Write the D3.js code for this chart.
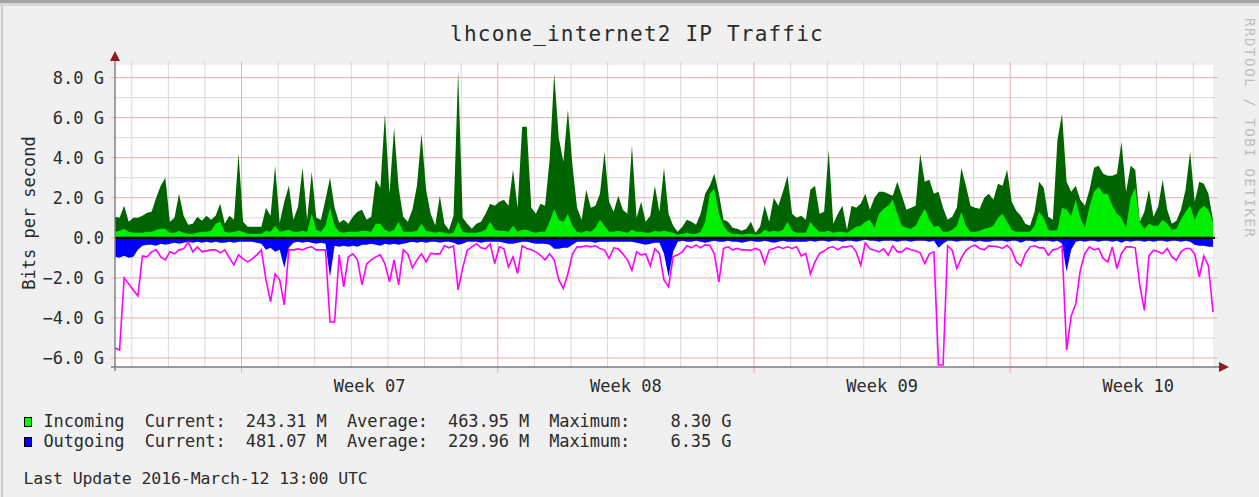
<!DOCTYPE html>
<html>
<head>
<meta charset="utf-8">
<script src="https://cdn.jsdelivr.net/npm/d3@7"></script>
<style>
  body { margin: 0; background: #f0f0f0; }
  svg { display: block; }
  text { font-family: "DejaVu Sans Mono", monospace; fill: #2b2b2b; }
</style>
</head>
<body>
<svg id="chart" width="1259" height="497"></svg>
<script>
// rrd samples, 3 hour steps starting at startTime (values in Gbit/s)
const startTime = Date.UTC(2016, 1, 11, 13);
const endTime = Date.UTC(2016, 2, 12, 13);
const stepHours = 3;

// incoming, max per step (dark green)
const inMax = [
  1.05, 1.0, 1.6, 0.8, 1.0, 1.0, 1.1, 1.25, 1.3, 2.0,
  2.6, 3.0, 0.8, 1.0, 2.2, 1.1, 0.65, 0.7, 1.05, 0.85,
  1.1, 0.9, 1.1, 1.7, 0.7, 1.1, 0.9, 4.2, 0.8, 0.55,
  0.55, 0.55, 0.55, 1.5, 1.1, 3.6, 0.75, 1.8, 2.6, 0.9,
  1.55, 3.5, 0.9, 3.3, 1.0, 0.9, 1.9, 3.0, 1.5, 0.75,
  0.9, 0.7, 1.05, 1.3, 1.4, 0.9, 1.05, 2.9, 2.5, 6.2,
  2.2, 5.5, 2.5, 1.05, 0.8, 1.4, 2.6, 5.2, 2.4, 1.2,
  0.63, 2.1, 0.7, 0.4, 1.1, 8.3, 1.0, 0.7, 0.45, 0.7,
  0.8, 1.2, 1.7, 1.6, 1.8, 1.9, 1.6, 3.4, 1.5, 5.55,
  5.55, 1.5, 1.2, 1.7, 1.6, 3.9, 8.2, 5.0, 3.8, 6.4,
  3.6, 1.5, 0.9, 2.4, 1.5, 1.6, 2.2, 4.3, 1.8, 1.3,
  2.1, 1.4, 1.2, 4.6, 1.0, 1.8, 0.8, 1.1, 2.6, 1.3,
  3.5, 1.2, 0.6, 0.3, 0.55, 0.9, 0.8, 0.65, 1.2, 2.2,
  2.6, 3.2, 2.2, 0.9, 0.8, 0.5, 0.45, 0.35, 0.45, 0.8,
  0.25, 0.55, 1.6, 0.8, 2.0, 1.6, 2.3, 3.1, 1.2, 1.0,
  1.1, 0.9, 2.4, 2.6, 1.2, 1.3, 4.4, 0.7, 1.2, 1.6,
  0.4, 1.6, 1.5, 1.7, 2.2, 1.4, 2.0, 2.3, 2.3, 2.2,
  2.1, 2.8, 2.1, 1.4, 1.5, 1.6, 4.2, 2.8, 2.9, 2.2,
  2.3, 1.5, 0.9, 1.05, 1.5, 3.5, 2.6, 1.6, 1.5, 1.45,
  2.0, 2.2, 1.9, 2.7, 2.6, 3.4, 1.8, 1.35, 1.1, 0.7,
  0.6, 1.3, 2.8, 2.5, 1.05, 0.9, 4.9, 6.2, 2.8, 2.3,
  2.6, 1.9, 1.6, 2.4, 3.5, 3.6, 3.2, 3.1, 3.1, 3.2,
  4.8, 2.3, 3.6, 3.4, 0.8, 1.3, 2.4, 1.05, 1.55, 2.9,
  1.4, 0.7, 0.85, 1.4, 2.4, 4.3, 1.8, 2.8, 2.7, 2.2,
  0.9
];

// incoming, average per step (light green)
const inAvg = [
  0.3, 0.35, 0.45, 0.3, 0.25, 0.25, 0.25, 0.3, 0.3, 0.4,
  0.45, 0.45, 0.25, 0.25, 0.35, 0.25, 0.2, 0.2, 0.25, 0.3,
  0.3, 0.35, 0.7, 0.8, 0.3, 0.25, 0.3, 0.35, 0.3, 0.2,
  0.2, 0.2, 0.2, 0.35, 0.3, 0.6, 0.3, 0.35, 0.4, 0.3,
  0.3, 0.35, 0.3, 1.2, 0.4, 0.3, 0.6, 1.5, 0.6, 0.3,
  0.25, 0.3, 0.3, 0.3, 0.35, 0.35, 0.3, 0.7, 0.7, 0.4,
  0.3, 0.4, 0.8, 0.3, 0.3, 0.3, 0.35, 0.7, 0.35, 0.3,
  0.25, 0.3, 0.25, 0.2, 0.25, 0.8, 0.3, 0.25, 0.25, 0.25,
  0.3, 0.4, 0.8, 0.4, 0.35, 0.35, 0.3, 0.6, 0.3, 0.4,
  0.4, 0.3, 0.25, 0.3, 0.3, 0.8, 1.45, 0.9, 0.8, 1.2,
  0.6, 0.3, 0.25, 0.35, 0.3, 0.5, 0.9, 0.6, 0.3, 0.3,
  0.35, 0.3, 0.25, 0.4, 0.3, 0.3, 0.25, 0.25, 0.35, 0.3,
  0.35, 0.3, 0.25, 0.15, 0.2, 0.25, 0.2, 0.2, 0.3, 0.8,
  2.2, 2.45, 1.2, 0.6, 0.3, 0.2, 0.2, 0.15, 0.2, 0.2,
  0.15, 0.2, 0.4, 0.3, 0.35, 0.3, 0.4, 0.8, 0.35, 0.25,
  0.25, 0.25, 0.8, 0.5, 0.3, 0.3, 0.35, 0.25, 0.3, 0.3,
  0.25, 0.4, 0.55, 0.6, 0.8, 0.9, 0.5, 1.2, 1.45, 1.6,
  1.9, 1.2, 0.6, 0.5, 0.45, 0.6, 1.05, 1.45, 0.9, 0.55,
  0.6, 0.3, 0.3, 0.4, 0.6, 1.3, 0.6, 0.3, 0.3, 0.35,
  0.45, 0.5, 0.6, 1.0, 1.2, 0.8, 0.4, 0.3, 0.3, 0.3,
  0.3, 0.6, 1.3, 1.0, 0.4, 0.35, 0.4, 1.5, 1.4, 1.1,
  1.9, 1.0, 0.5, 1.55, 2.3, 2.55, 2.2, 2.2, 1.6, 1.2,
  1.0, 0.5, 2.0, 2.5, 0.8, 0.45, 0.7, 0.6, 0.6, 0.9,
  0.7, 0.4, 0.45, 0.9, 1.3, 1.6, 0.9, 1.4, 1.6, 1.4,
  0.8
];

// outgoing, average per step (blue, drawn below zero)
const outAvg = [
  0.95, 1.0, 0.9, 1.0, 0.95, 0.6, 0.4, 0.35, 0.35, 0.4,
  0.3, 0.35, 0.3, 0.25, 0.3, 0.25, 0.2, 0.25, 0.2, 0.25,
  0.2, 0.25, 0.2, 0.25, 0.25, 0.2, 0.25, 0.2, 0.2, 0.2,
  0.2, 0.25, 0.3, 0.6, 0.5, 0.7, 0.6, 1.5, 0.5, 0.25,
  0.2, 0.25, 0.2, 0.25, 0.3, 0.25, 0.3, 1.95, 0.4, 0.45,
  0.4, 0.45, 0.4, 0.45, 0.35, 0.35, 0.3, 0.35, 0.4, 0.3,
  0.35, 0.3, 0.35, 0.3, 0.25, 0.2, 0.25, 0.2, 0.25, 0.2,
  0.2, 0.25, 0.2, 0.2, 0.25, 0.35, 0.3, 0.2, 0.2, 0.2,
  0.25, 0.2, 0.2, 0.2, 0.2, 0.25, 0.3, 0.3, 0.25, 0.2,
  0.2, 0.25, 0.3, 0.3, 0.3, 0.35, 0.55, 0.55, 0.5, 0.5,
  0.35, 0.2, 0.2, 0.2, 0.2, 0.25, 0.2, 0.2, 0.2, 0.2,
  0.2, 0.2, 0.2, 0.2, 0.25, 0.3, 0.35, 0.3, 0.25, 0.25,
  0.8, 1.95, 0.7, 0.2, 0.15, 0.2, 0.2, 0.15, 0.2, 0.25,
  0.2, 0.15, 0.2, 0.2, 0.15, 0.2, 0.2, 0.25, 0.2, 0.15,
  0.2, 0.2, 0.15, 0.2, 0.25, 0.2, 0.15, 0.2, 0.2, 0.2,
  0.2, 0.2, 0.15, 0.2, 0.15, 0.15, 0.2, 0.15, 0.15, 0.2,
  0.15, 0.15, 0.2, 0.15, 0.1, 0.15, 0.15, 0.2, 0.15, 0.15,
  0.15, 0.2, 0.15, 0.15, 0.2, 0.15, 0.15, 0.15, 0.2, 0.15,
  0.5, 0.3, 0.15, 0.15, 0.2, 0.15, 0.15, 0.15, 0.2, 0.15,
  0.2, 0.2, 0.15, 0.15, 0.15, 0.2, 0.15, 0.15, 0.25, 0.15,
  0.15, 0.2, 0.15, 0.15, 0.15, 0.2, 0.15, 0.3, 1.7, 0.6,
  0.2, 0.15, 0.2, 0.15, 0.15, 0.2, 0.15, 0.15, 0.2, 0.15,
  0.25, 0.15, 0.2, 0.15, 0.15, 0.2, 0.15, 0.2, 0.15, 0.15,
  0.2, 0.15, 0.15, 0.2, 0.15, 0.2, 0.35, 0.4, 0.4, 0.45,
  0.45
];

// outgoing, max per step (magenta line, drawn below zero)
const outMax = [
  5.5, 5.6, 2.0, 2.3, 2.6, 2.9, 0.9, 0.95, 0.7, 0.6,
  0.95, 1.1, 0.7, 0.8, 0.6, 0.55, 0.2, 0.7, 0.45, 0.7,
  0.65, 0.6, 0.6, 0.75, 0.6, 1.0, 1.35, 0.85, 1.05, 1.2,
  1.05, 0.85, 0.6, 2.1, 3.2, 1.8, 2.1, 3.35, 0.6, 0.6,
  0.55, 0.6, 0.5, 0.45, 0.6, 0.6, 0.6, 4.2, 4.2, 0.85,
  2.45, 0.95, 0.8, 1.1, 2.35, 1.3, 1.1, 0.95, 0.85, 1.3,
  2.2, 1.1, 2.35, 0.6, 0.8, 1.5, 1.1, 0.8, 1.2, 0.78,
  0.8, 0.8, 0.4, 0.5, 0.4, 2.6, 1.5, 0.62, 0.45, 0.3,
  0.5, 0.55, 0.3, 1.28, 0.45, 0.55, 1.45, 0.95, 1.78, 0.4,
  0.53, 0.6, 0.7, 0.87, 1.1, 0.8, 1.1, 2.1, 2.53, 1.78,
  0.8, 0.45, 0.45, 0.4, 0.45, 0.4, 0.53, 0.6, 1.03, 0.5,
  0.55, 0.8, 1.1, 1.62, 0.7, 0.85, 0.8, 1.4, 0.55, 0.78,
  2.1, 2.45, 0.95, 0.85, 0.7, 0.4, 0.5, 0.35, 0.5, 0.35,
  0.37, 0.8, 2.2, 0.53, 0.45, 0.6, 0.53, 0.6, 0.6, 0.62,
  0.53, 0.62, 1.28, 0.6, 0.53, 0.45, 0.53, 0.45, 0.53, 0.45,
  0.9, 0.78, 1.8, 1.2, 0.78, 0.65, 0.5, 0.45, 0.6, 0.45,
  0.45, 0.4, 0.7, 1.37, 0.25, 0.55, 0.62, 0.7, 0.55, 0.87,
  0.4, 0.7, 0.7, 0.5, 0.6, 0.65, 0.75, 1.28, 0.8, 0.7,
  6.35, 6.35, 0.4, 0.62, 1.53, 1.0, 0.62, 0.45, 0.37, 0.53,
  0.6, 0.4, 0.42, 0.45, 0.53, 0.37, 0.62, 1.2, 1.4, 0.78,
  0.45, 0.4, 0.5, 0.5, 0.87, 0.6, 0.55, 0.4, 5.6, 3.9,
  3.3, 1.6, 0.78, 0.45, 0.6, 0.53, 1.03, 1.2, 0.45, 1.53,
  0.78, 0.45, 0.45, 0.5, 2.37, 3.62, 0.9, 0.62, 0.7, 0.78,
  0.53, 0.95, 1.12, 0.7, 0.53, 0.53, 0.8, 1.95, 0.9, 1.4,
  3.7
];

const yMin = -6.45;
const yMax = 8.63;
const yTicks = [-6, -4, -2, 0, 2, 4, 6, 8];
const weekLabels = ["Week 07", "Week 08", "Week 09", "Week 10"];

const legendRows = [
  { name: "Incoming", color: "#00ff00", current: "243.31 M", average: "463.95 M", maximum: "8.30 G" },
  { name: "Outgoing", color: "#0000ff", current: "481.07 M", average: "229.96 M", maximum: "6.35 G" }
];
const lastUpdate = "Last Update 2016-March-12 13:00 UTC";
const title = "lhcone_internet2 IP Traffic";
const yLabel = "Bits per second";
const watermark = "RRDTOOL / TOBI OETIKER";

function whenDocumentLoaded(action) {
  if (document.readyState === "loading") {
    document.addEventListener("DOMContentLoaded", action);
  } else {
    action();
  }
}

function drawChart() {
  const svg = d3.select('#chart');
  const plot = { left: 115, right: 1213, top: 65, bottom: 367 };

  const x = d3.scaleUtc()
    .domain([new Date(startTime), new Date(endTime)])
    .range([plot.left, plot.right]);
  const y = d3.scaleLinear()
    .domain([yMin, yMax])
    .range([plot.bottom, plot.top]);

  const times = inMax.map((d, i) => new Date(startTime + i * stepHours * 36e5));
  const rows = times.map((t, i) => ({
    t: t,
    inMax: inMax[i],
    inAvg: inAvg[i],
    outAvg: -outAvg[i],
    outMax: -outMax[i]
  }));

  // window frame
  svg.append('rect').attr('x', 0).attr('y', 0).attr('width', 1259).attr('height', 3).attr('fill', '#a3a3a3');
  svg.append('rect').attr('x', 0).attr('y', 3).attr('width', 1259).attr('height', 3).attr('fill', '#d6d6d6');
  svg.append('rect').attr('x', 1).attr('y', 6).attr('width', 2).attr('height', 491).attr('fill', '#cbcbcb');

  // canvas
  svg.append('rect')
    .attr('x', plot.left).attr('y', plot.top)
    .attr('width', plot.right - plot.left).attr('height', plot.bottom - plot.top)
    .attr('fill', '#ffffff');

  // grid: minor every 1 G / 1 day, major every 2 G / week
  const grid = svg.append('g');
  const minorY = d3.range(-6, 9).filter(v => !yTicks.includes(v));
  grid.selectAll('.minor-h').data(minorY).enter().append('line')
    .attr('x1', plot.left - 2).attr('x2', plot.right + 2)
    .attr('y1', d => y(d)).attr('y2', d => y(d))
    .attr('stroke', '#d9d9d9').attr('stroke-width', 1);

  const weeks = d3.utcMonday.range(new Date(startTime), new Date(endTime));
  const days = d3.utcDay.range(new Date(startTime), new Date(endTime))
    .filter(d => d.getUTCDay() !== 1);
  grid.selectAll('.minor-v').data(days).enter().append('line')
    .attr('x1', d => x(d)).attr('x2', d => x(d))
    .attr('y1', plot.top - 3).attr('y2', plot.bottom + 2)
    .attr('stroke', '#d9d9d9').attr('stroke-width', 1);

  grid.selectAll('.major-h').data(yTicks).enter().append('line')
    .attr('x1', plot.left - 4).attr('x2', plot.right + 5)
    .attr('y1', d => y(d)).attr('y2', d => y(d))
    .attr('stroke', '#f2a9a9').attr('stroke-width', 1);
  grid.selectAll('.major-v').data(weeks).enter().append('line')
    .attr('x1', d => x(d)).attr('x2', d => x(d))
    .attr('y1', plot.top - 3).attr('y2', plot.bottom + 6)
    .attr('stroke', '#f2a9a9').attr('stroke-width', 1);

  // traffic
  const area = key => d3.area()
    .x(d => x(d.t))
    .y0(y(0))
    .y1(d => y(d[key]));

  svg.append('path').datum(rows).attr('d', area('inMax')).attr('fill', '#006400');
  svg.append('path').datum(rows).attr('d', area('inAvg')).attr('fill', '#00ee00');
  svg.append('path').datum(rows).attr('d', area('outAvg')).attr('fill', '#0000ff');
  svg.append('path').datum(rows)
    .attr('d', d3.line().x(d => x(d.t)).y(d => y(d.outMax)))
    .attr('fill', 'none').attr('stroke', '#ff00ff').attr('stroke-width', 1.6);

  svg.append('line')
    .attr('x1', plot.left).attr('x2', plot.right + 2)
    .attr('y1', y(0)).attr('y2', y(0))
    .attr('stroke', '#000').attr('stroke-width', 2.2);

  // axes with arrows
  svg.append('line')
    .attr('x1', plot.left - 4).attr('x2', plot.right + 7)
    .attr('y1', plot.bottom).attr('y2', plot.bottom)
    .attr('stroke', '#7c7c7c').attr('stroke-width', 1.4);
  svg.append('line')
    .attr('x1', plot.left).attr('x2', plot.left)
    .attr('y1', plot.bottom + 4).attr('y2', plot.top - 7)
    .attr('stroke', '#7c7c7c').attr('stroke-width', 1.4);
  svg.append('path')
    .attr('d', d3.line()([[plot.left - 5, plot.top - 4], [plot.left + 5, plot.top - 4], [plot.left, plot.top - 14]]) + 'Z')
    .attr('fill', '#8e1c1c');
  svg.append('path')
    .attr('d', d3.line()([[plot.right + 6, plot.bottom - 5], [plot.right + 6, plot.bottom + 5], [plot.right + 16, plot.bottom]]) + 'Z')
    .attr('fill', '#8e1c1c');

  // y labels
  svg.selectAll('.ytick').data(yTicks).enter().append('text')
    .attr('x', 104)
    .attr('y', d => y(d) + 6)
    .attr('text-anchor', 'end')
    .style('font-size', '17px')
    .text(d => d === 0 ? '0.0' : d3.format('.1f')(d) + ' G');

  // week labels in the middle of each week
  svg.selectAll('.week').data(weeks).enter().append('text')
    .attr('x', d => x(d3.utcHour.offset(d, 84)))
    .attr('y', 392)
    .attr('text-anchor', 'middle')
    .style('font-size', '17px')
    .text((d, i) => weekLabels[i]);

  svg.append('text')
    .attr('x', 637).attr('y', 41)
    .attr('text-anchor', 'middle')
    .style('font-size', '21px')
    .style('letter-spacing', '1.2px')
    .text(title);

  svg.append('text')
    .attr('transform', 'translate(35,213) rotate(-90)')
    .attr('text-anchor', 'middle')
    .style('font-size', '17px')
    .text(yLabel);

  svg.append('text')
    .attr('transform', 'translate(1245,18) rotate(90)')
    .style('font-size', '14px')
    .style('letter-spacing', '1.6px')
    .style('fill', '#bdbdbd')
    .text(watermark);

  // legend
  const legend = svg.append('g');
  legendRows.forEach((r, i) => {
    const base = 427 + i * 20;
    legend.append('rect')
      .attr('x', 24.5).attr('y', base - 9.5)
      .attr('width', 7).attr('height', 9)
      .attr('fill', r.color).attr('stroke', '#000').attr('stroke-width', 1);
    legend.append('text')
      .attr('x', 43.5).attr('y', base)
      .style('font-size', '17px')
      .style('letter-spacing', '-0.12px')
      .style('white-space', 'pre')
      .text(r.name.padEnd(10) + 'Current:  ' + r.current.padStart(8) +
        '  Average:  ' + r.average.padStart(8) +
        '  Maximum:  ' + r.maximum.padStart(8));
  });

  svg.append('text')
    .attr('x', 23.5).attr('y', 484)
    .style('font-size', '16.5px')
    .style('letter-spacing', '-0.1px')
    .style('white-space', 'pre')
    .text(lastUpdate);
}

whenDocumentLoaded(() => {
  drawChart();
});
</script>
</body>
</html>
